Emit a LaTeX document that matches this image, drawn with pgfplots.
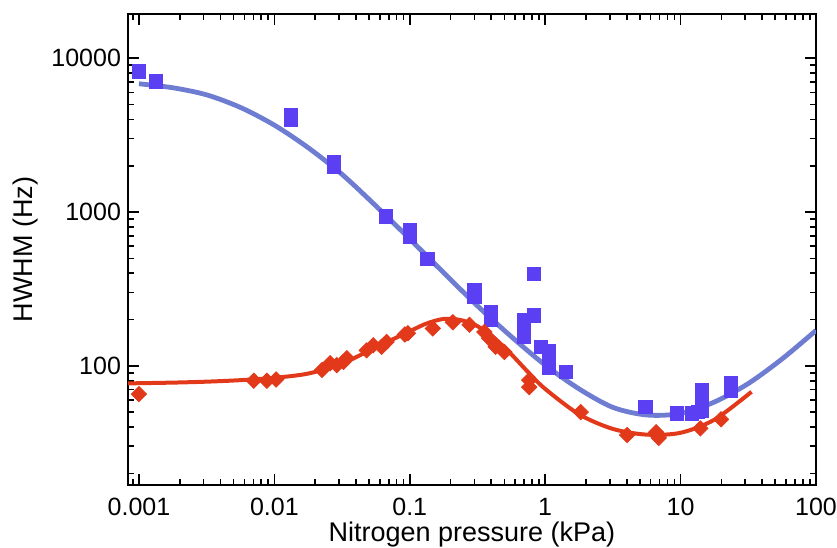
\documentclass[border=0pt]{standalone}
\usepackage{fontspec}
\setmainfont{Liberation Sans}
\usepackage{pgfplots}
\pgfplotsset{compat=1.18}
\usetikzlibrary{calc}
\definecolor{sqblue}{HTML}{5B3FF2}
\definecolor{fitblue}{HTML}{6E7DD2}
\definecolor{dmred}{HTML}{E2391B}

\begin{document}
\begin{tikzpicture}
\begin{loglogaxis}[
  scale only axis,
  width=344pt, height=235.5pt,
  xmin=0.00083, xmax=100, ymin=16.8, ymax=19400,
  xtick={0.001,0.01,0.1,1,10,100},
  xticklabels={0.001,0.01,0.1,1,10,100},
  ytick={100,1000,10000},
  yticklabels={100,1000,10000},
  minor xtick={0.0009,0.002,0.003,0.004,0.005,0.006,0.007,0.008,0.009,
    0.02,0.03,0.04,0.05,0.06,0.07,0.08,0.09,0.2,0.3,0.4,0.5,0.6,0.7,0.8,0.9,
    2,3,4,5,6,7,8,9,20,30,40,50,60,70,80,90},
  minor ytick={20,30,40,50,60,70,80,90,200,300,400,500,600,700,800,900,
    2000,3000,4000,5000,6000,7000,8000,9000},
  tick align=inside,
  major tick length=5.5pt, minor tick length=3pt,
  every tick/.style={black, line width=0.8pt},
  axis line style={line width=1pt},
  /pgf/number format/assume math mode=true,
  tick label style={font=\fontsize{12.5}{14}\selectfont},
  xticklabel style={yshift=-3pt},
  xlabel={Nitrogen pressure (kPa)},
  ylabel={HWHM (Hz)},
  label style={font=\fontsize{13.5}{16}\selectfont},
  xlabel style={yshift=4pt},
  clip=true,
]
% fitted curves
\addplot[fitblue, line width=2.4pt, smooth] coordinates {
 (0.001,6823) (0.00178,6427) (0.00316,5781) (0.00562,4786) (0.01,3673)
 (0.0178,2618) (0.0316,1758) (0.0562,1096) (0.1,668) (0.178,403)
 (0.316,245.5) (0.562,154.9) (1,101.2) (1.78,70.8) (3.16,53.7)
 (5.62,47.9) (10,49.0) (17.8,58.2) (31.6,76.7) (56.2,110.9) (100,169.8)};
\addplot[dmred, line width=2pt, smooth] coordinates {
 (0.00083,76.9) (0.00178,77.8) (0.00316,78.9) (0.00562,80.7) (0.01,83.6)
 (0.0178,89.1) (0.0316,103.5) (0.0562,131.8) (0.1,167.9) (0.133,188.4)
 (0.178,201.8) (0.237,198.6) (0.316,181.1) (0.422,151.4) (0.562,118.9)
 (0.75,90.8) (1,70.8) (1.78,48.4) (3.16,38.9) (5.62,35.7) (10,36.7)
 (17.8,44.7) (33.4,67.8)};
% measured points
\addplot[only marks, mark=square*, mark size=3.3pt,
  mark options={draw=sqblue, fill=sqblue}] coordinates {
 (0.001,8200) (0.00133,7070) (0.0133,4300) (0.0133,3950) (0.0277,2100)
 (0.0277,1980) (0.067,937) (0.1,760) (0.1,686) (0.135,498)
 (0.30,310) (0.30,280) (0.398,225) (0.398,200) (0.83,398) (0.83,213)
 (0.70,198) (0.70,171) (0.70,154) (0.93,133) (1.07,125) (1.07,110)
 (1.07,97) (1.42,91) (5.5,54) (9.4,49) (12.1,49) (13.5,50)
 (14.4,70) (14.4,60) (14.4,51) (23.6,77) (23.6,69)};
\addplot[only marks, mark=square*, mark size=2.7pt,
  mark options={rotate=45, draw=dmred, fill=dmred}] coordinates {
 (0.001,65.5) (0.00705,80) (0.0088,80) (0.0103,81.5) (0.0225,94)
 (0.0258,104) (0.0289,101) (0.0324,106) (0.0343,112) (0.048,126)
 (0.0537,136) (0.062,133) (0.0674,143) (0.092,160) (0.097,163)
 (0.148,175) (0.208,192) (0.276,185) (0.356,166) (0.385,151)
 (0.431,133) (0.5,123) (0.762,80.7) (0.762,72.7) (1.83,50)
 (4.03,35.5) (6.6,37) (6.9,34) (14,39.2) (19.9,44.9)};
\end{loglogaxis}
\pgfresetboundingbox
\path ($(current axis.south west)+(-64pt,-31.5pt)$) rectangle
      ($(current axis.north east)+(10.5pt,7pt)$);
\end{tikzpicture}
\end{document}
